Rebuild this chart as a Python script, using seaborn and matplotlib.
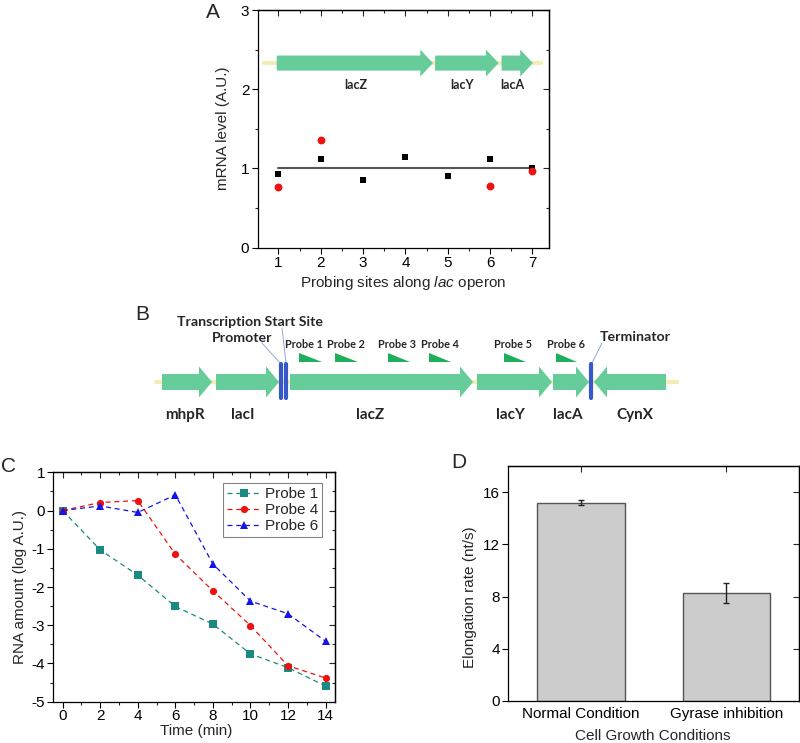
import numpy as np
import pandas as pd
import matplotlib
matplotlib.use("Agg")
import matplotlib.pyplot as plt
import seaborn as sns
from matplotlib.patches import Polygon
from matplotlib.ticker import MultipleLocator

# ---------------- data ----------------
# panel A: mRNA level at probing sites
sites = [1, 2, 3, 4, 5, 6, 7]
level_black = [0.93, 1.12, 0.85, 1.15, 0.905, 1.12, 1.0]
sites_red = [1, 2, 6, 7]
level_red = [0.77, 1.36, 0.78, 0.97]
genesA = ["lacZ", "lacY", "lacA"]
genesA_start = [0.96, 4.70, 6.27]
genesA_end = [4.65, 6.20, 7.01]
genesA_label_x = [2.82, 5.34, 6.52]

# panel B: operon schematic (schematic units, left->right)
genesB = ["mhpR", "lacI", "lacZ", "lacY", "lacA", "CynX"]
genesB_start = [162, 216, 290, 477, 553, 666]
genesB_end = [212, 279, 473, 552, 589, 594]
genesB_label_x = [185, 243, 370, 510, 568, 635]
probes = ["Probe 1", "Probe 2", "Probe 3", "Probe 4", "Probe 5", "Probe 6"]
probe_start = [299, 335, 388, 429, 504, 556]
probe_end = [322, 358, 410, 451, 526, 577]
probe_label_x = [304, 346, 397, 440, 513, 566]
sites_B = [281, 286, 591]          # promoter, TSS, terminator

# panel C: RNA decay
time_min = [0, 2, 4, 6, 8, 10, 12, 14]
probe1 = [0.0, -1.03, -1.69, -2.51, -2.97, -3.75, -4.11, -4.59]
probe4 = [0.0, 0.21, 0.26, -1.145, -2.10, -3.01, -4.06, -4.38]
probe6 = [0.0, 0.12, -0.05, 0.41, -1.40, -2.37, -2.70, -3.42]

# panel D: elongation rate
conditions = ["Normal Condition", "Gyrase inhibition"]
rate = [15.2, 8.26]
rate_err = [0.18, 0.75]

# ---------------- style ----------------
sns.set_style("ticks")
plt.rcParams["font.family"] = ["Liberation Sans", "DejaVu Sans"]
plt.rcParams["mathtext.fontset"] = "custom"
plt.rcParams["mathtext.rm"] = "Liberation Sans"
plt.rcParams["mathtext.it"] = "Liberation Sans:italic"
plt.rcParams["axes.unicode_minus"] = False
plt.rcParams["axes.linewidth"] = 0.9
plt.rcParams["axes.edgecolor"] = "black"

GREEN = "#66cc99"
PROBE_GREEN = "#1fae5c"
BLUE = "#3658c8"
DNA = "#f0eeb4"
BOLD = ["Lato", "DejaVu Sans"]
TICK_FS = 11
LAB_FS = 11

W, H = 800, 743
fig = plt.figure(figsize=(W / 100, H / 100), dpi=100)


def box(l, t, r, b):
    return [l / W, 1 - b / H, (r - l) / W, (b - t) / H]


def ftext(x, y, s, **kw):
    kw.setdefault("ha", "center")
    kw.setdefault("va", "center")
    fig.text(x / W, 1 - y / H, s, **kw)


def style_axes(ax, xmajor, ymajor, xminor=None, yminor=None, top_ticks=True):
    ax.tick_params(which="major", direction="out", length=4, width=0.8,
                   labelsize=TICK_FS, colors="black", pad=2)
    ax.tick_params(which="minor", direction="out", length=2.5, width=0.8)
    ax.set_xticks(xmajor)
    ax.set_yticks(ymajor)
    if xminor:
        ax.xaxis.set_minor_locator(MultipleLocator(xminor))
    if yminor:
        ax.yaxis.set_minor_locator(MultipleLocator(yminor))
    for s in ax.spines.values():
        s.set_visible(True)
        s.set_linewidth(0.9)
    right = ax.secondary_yaxis("right")
    right.set_yticks(ymajor)
    right.tick_params(which="both", direction="in", labelright=False, width=0.8)
    right.tick_params(which="major", length=4)
    right.tick_params(which="minor", length=2.5)
    if yminor:
        right.yaxis.set_minor_locator(MultipleLocator(yminor))
    if top_ticks:
        top = ax.secondary_xaxis("top")
        top.set_xticks(xmajor)
        top.tick_params(which="both", direction="in", labeltop=False, width=0.8)
        top.tick_params(which="major", length=4)
        top.tick_params(which="minor", length=2.5)
        if xminor:
            top.xaxis.set_minor_locator(MultipleLocator(xminor))
    return ax


def arrow_poly(x0, x1, yc, body_h, head_h, head_len):
    d = 1 if x1 > x0 else -1
    xh = x1 - d * head_len
    return [(x0, yc - body_h / 2), (xh, yc - body_h / 2), (xh, yc - head_h / 2),
            (x1, yc), (xh, yc + head_h / 2), (xh, yc + body_h / 2),
            (x0, yc + body_h / 2)]


# ---------------- panel A ----------------
axA = fig.add_axes(box(257.7, 10, 549, 247.7))
axA.plot([0.67, 7.19], [2.33, 2.33], color=DNA, lw=3, zorder=1)
for g, s, e, lx in zip(genesA, genesA_start, genesA_end, genesA_label_x):
    axA.add_patch(Polygon(arrow_poly(s, e, 2.33, 0.19, 0.34, 0.30),
                          closed=True, fc=GREEN, ec="none", zorder=2))
    axA.text(lx, 2.05, g, ha="center", va="center", fontsize=9,
             fontweight="bold", family=BOLD)
axA.plot([1, 7], [1, 1], color="#555555", lw=1.5, zorder=2)
sns.scatterplot(x=sites, y=level_black, marker="s", color="black", s=24,
                linewidth=0, ax=axA, zorder=3)
sns.scatterplot(x=sites_red, y=level_red, marker="o", color="#ee1111", s=32,
                linewidth=0, ax=axA, zorder=3)
axA.set_xlim(0.51, 7.39)
axA.set_ylim(0, 3)
style_axes(axA, sites, [0, 1, 2, 3], 0.5, 0.5)
ftext(223, 128, "mRNA level (A.U.)", rotation=90, fontsize=LAB_FS)
ftext(403, 283, r"Probing sites along $\mathit{lac}$ operon", fontsize=LAB_FS)
ftext(213, 13, "A", fontsize=15)

# ---------------- panel B ----------------
axB = fig.add_axes([0, 0, 1, 1], zorder=-1)
axB.set_xlim(0, W)
axB.set_ylim(H, 0)
axB.axis("off")
axB.plot([156, 677], [382, 382], color=DNA, lw=3, zorder=1)
for g, s, e, lx in zip(genesB, genesB_start, genesB_end, genesB_label_x):
    axB.add_patch(Polygon(arrow_poly(s, e, 382, 16, 31, 13),
                          closed=True, fc=GREEN, ec="none", zorder=2))
    axB.text(lx, 415, g, ha="center", va="center", fontsize=11,
             fontweight="bold", family=BOLD)
for p, s, e, lx in zip(probes, probe_start, probe_end, probe_label_x):
    axB.add_patch(Polygon([(s, 353), (s, 362), (e, 362)], closed=True,
                          fc=PROBE_GREEN, ec="none"))
    axB.text(lx, 344, p, ha="center", va="center", fontsize=7.8,
             fontweight="bold", family=BOLD)
for x in sites_B:
    axB.plot([x, x], [364, 398], color=BLUE, lw=3, solid_capstyle="round", zorder=3)
axB.plot([262, 280], [343, 363], color="#7f9ad8", lw=0.6)
axB.plot([282, 286], [328, 363], color="#7f9ad8", lw=0.6)
axB.plot([602, 592], [343, 363], color="#7f9ad8", lw=0.6)
axB.text(250, 322, "Transcription Start Site", ha="center", va="center",
         fontsize=10.2, fontweight="bold", family=BOLD)
axB.text(242, 338, "Promoter", ha="center", va="center", fontsize=10.2,
         fontweight="bold", family=BOLD)
axB.text(635, 337, "Terminator", ha="center", va="center", fontsize=10.2,
         fontweight="bold", family=BOLD)
ftext(142, 315, "B", fontsize=15)

# ---------------- panel C ----------------
axC = fig.add_axes(box(53.3, 472.3, 335, 701.7))
dfC = pd.DataFrame({
    "time": time_min * 3,
    "amount": probe1 + probe4 + probe6,
    "probe": ["Probe 1"] * 8 + ["Probe 4"] * 8 + ["Probe 6"] * 8,
})
sns.lineplot(data=dfC, x="time", y="amount", hue="probe", style="probe",
             markers=["s", "o", "^"], dashes=[(4, 3)] * 3,
             palette=["#1a8a82", "#ee1111", "#1414e6"], lw=0.9,
             markersize=5.2, markeredgewidth=0, ax=axC)
axC.set_xlim(-0.5, 14.5)
axC.set_ylim(-5, 1)
axC.set_xlabel("")
axC.set_ylabel("")
style_axes(axC, time_min, [-5, -4, -3, -2, -1, 0, 1], 1, 0.5)
axC.tick_params(axis="x", pad=1)
h, l = axC.get_legend_handles_labels()
leg = axC.legend(h, l, loc="upper right", bbox_to_anchor=(0.954, 0.953),
                 borderaxespad=0, fancybox=False, frameon=True, fontsize=TICK_FS,
                 handlelength=2.2, handletextpad=0.3, borderpad=0.25,
                 labelspacing=0.15)
leg.get_frame().set_edgecolor("#666666")
leg.get_frame().set_linewidth(0.8)
ftext(20, 587, "RNA amount (log A.U.)", rotation=90, fontsize=LAB_FS)
ftext(196, 731, "Time (min)", fontsize=LAB_FS)
ftext(8, 467, "C", fontsize=15)

# ---------------- panel D ----------------
axD = fig.add_axes(box(508.3, 466, 799, 701))
sns.barplot(x=conditions, y=rate, color="#cccccc", edgecolor="#555555",
            linewidth=1, width=0.6, errorbar=None, saturation=1, ax=axD)
axD.errorbar(range(len(conditions)), rate, yerr=rate_err, fmt="none",
             ecolor="#222222", elinewidth=1, capsize=2.5, capthick=1)
axD.set_xlim(-0.5, 1.5)
axD.set_ylim(0, 18)
style_axes(axD, [0, 1], [0, 4, 8, 12, 16])
axD.set_xticks([0, 1], conditions)
axD.tick_params(axis="x", length=0, labelsize=LAB_FS, pad=4)
axD.set_xlabel("")
axD.set_ylabel("")
ftext(470, 597, "Elongation rate (nt/s)", rotation=90, fontsize=LAB_FS)
ftext(653, 736, "Cell Growth Conditions", fontsize=LAB_FS)
ftext(459, 462, "D", fontsize=15)

fig.savefig("out.png", dpi=100)
